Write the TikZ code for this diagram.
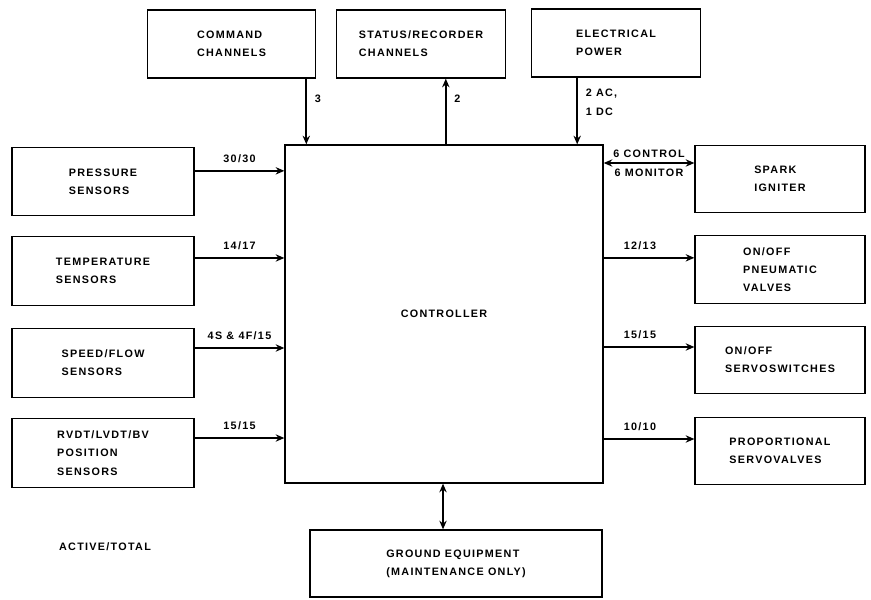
\documentclass[tikz,border=0pt]{standalone}
\usepackage{fontspec}
\setmainfont{Liberation Sans}[LetterSpace=12]
\usetikzlibrary{arrows.meta}

\begin{document}
\begin{tikzpicture}[x=0.03cm, y=-0.03cm, >={Stealth[length=2.6mm,width=2.2mm]},
  every node/.style={font=\fontsize{9.2}{15.5}\selectfont\bfseries},
  box/.style={draw, line width=1.1pt, align=left, inner sep=0pt},
  tbox/.style={box, minimum width=5.05cm, minimum height=2.04cm},
  sbox/.style={box, minimum width=5.46cm, minimum height=2.06cm},
  abox/.style={box, minimum width=5.1cm, minimum height=2.02cm},
  link/.style={line width=2pt}]
  \useasboundingbox (0,0) rectangle (871,600);
  \node[tbox] (cmd) at (231.5,44) {COMMAND\\CHANNELS};
  \node[tbox] (stat) at (421,44) {STATUS/RECORDER\\CHANNELS};
  \node[tbox] (pow) at (616,43) {ELECTRICAL\\POWER};
  \node[box, minimum width=9.54cm, minimum height=10.14cm] (ctrl) at (444,314)
    {CONTROLLER};
  \foreach \n/\y/\t in {press/181.5/{PRESSURE\\SENSORS},
      temp/271/{TEMPERATURE\\SENSORS}, speed/363/{SPEED/FLOW\\SENSORS},
      rvdt/453/{RVDT/LVDT/BV\\POSITION\\SENSORS}}
    \node[sbox] (\n) at (103,\y) {\t};
  \foreach \n/\y/\t in {spark/179/{SPARK\\IGNITER},
      pneu/269.5/{ON/OFF\\PNEUMATIC\\VALVES}, servo/360/{ON/OFF\\SERVOSWITCHES},
      prop/451/{PROPORTIONAL\\SERVOVALVES}}
    \node[abox] (\n) at (780,\y) {\t};
  \node[box, minimum width=8.76cm, minimum height=2.01cm] (ground) at (456,563.5)
    {GROUND EQUIPMENT\\(MAINTENANCE ONLY)};
  \node (key) at (105,547) {ACTIVE/TOTAL};

  \draw[link,->] ([xshift=-0.3cm]cmd.south east)
    -- ([xshift=-0.3cm]cmd.south east |- ctrl.north) node[pos=0.3,right=3pt] {3};
  \draw[link,->] ([xshift=-1.8cm]stat.south east |- ctrl.north)
    -- ([xshift=-1.8cm]stat.south east) node[pos=0.7,right=3pt] {2};
  \draw[link,->] ([xshift=1.38cm]pow.south west)
    -- ([xshift=1.38cm]pow.south west |- ctrl.north)
    node[pos=0.37,right=3pt,align=left] {2 AC,\\1 DC};
  \foreach \n/\s/\l in {press/0.32/{30/30}, temp/0.39/{14/17},
      speed/0.45/{4S \& 4F/15}, rvdt/0.45/{15/15}}
    \draw[link,->] ([yshift=\s cm]\n.east) -- ([yshift=\s cm]\n.east -| ctrl.west)
      node[midway,above=3pt] {\l};
  \foreach \n/\s/\l in {pneu/0.35/{12/13}, servo/0.39/{15/15}, prop/0.36/{10/10}}
    \draw[link,->] ([yshift=\s cm]\n.west -| ctrl.east) -- ([yshift=\s cm]\n.west)
      node[pos=0.4,above=3pt] {\l};
  \draw[line width=1.2pt,<->] ([yshift=0.48cm]spark.west -| ctrl.east)
    -- ([yshift=0.48cm]spark.west) node[midway,above=1pt] {6 CONTROL}
    node[midway,below=1pt] {6 MONITOR};
  \draw[link,<->] ([xshift=-0.39cm]ground.north)
    -- ([xshift=-0.39cm]ground.north |- ctrl.south);
\end{tikzpicture}
\end{document}
